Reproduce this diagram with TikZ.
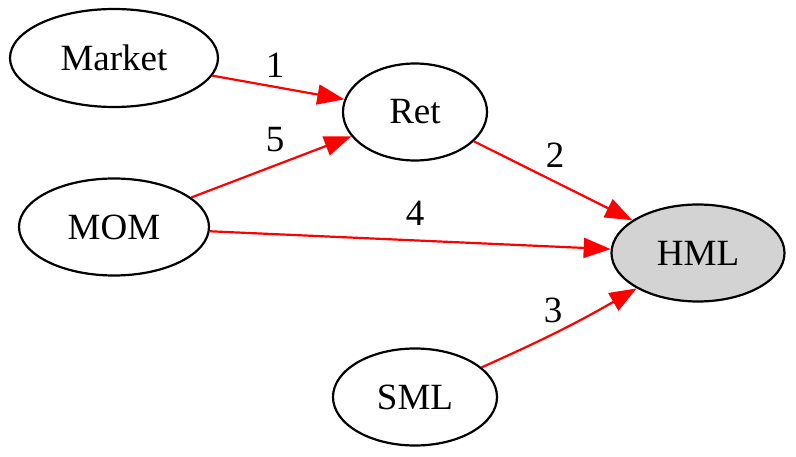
\documentclass[tikz,border=0pt]{standalone}
\usepackage{fontspec}
\setmainfont{Liberation Serif}
\usetikzlibrary{arrows.meta,shapes.geometric}
\definecolor{hmlgray}{HTML}{D3D3D3}
\begin{document}
\begin{tikzpicture}[x=1pt,y=1pt,
  vnode/.style={draw=black,line width=2.2pt,ellipse,inner sep=0pt,
    font=\fontsize{37}{40}\selectfont},
  edge/.style={draw=red,line width=2.2pt,
    -{Triangle[length=27pt,width=20pt,fill=red]}},
  elabel/.style={font=\fontsize{37}{40}\selectfont,inner sep=0pt}]
\useasboundingbox (0,0) rectangle (796,456);
\node[vnode,minimum width=208pt,minimum height=98pt] (market) at (114,398) {Market};
\node[vnode,minimum width=144pt,minimum height=97pt] (ret) at (415,344) {Ret};
\node[vnode,minimum width=190pt,minimum height=97pt] (mom) at (114,229) {MOM};
\node[vnode,fill=hmlgray,minimum width=173pt,minimum height=97pt] (hml) at (698,203) {HML};
\node[vnode,minimum width=164pt,minimum height=97pt] (sml) at (415,59) {SML};
\draw[edge] (market) -- (ret);
\draw[edge] (mom) -- (ret);
\draw[edge] (ret) -- (hml);
\draw[edge] (mom) -- (hml);
\draw[edge] (sml) to[out=24,in=210] (hml);
\node[elabel] (l1) at (275,391) {1};
\node[elabel] (l5) at (275,316) {5};
\node[elabel] (l2) at (555,301) {2};
\node[elabel] (l4) at (415,243) {4};
\node[elabel] (l3) at (553,146) {3};
\end{tikzpicture}
\end{document}
